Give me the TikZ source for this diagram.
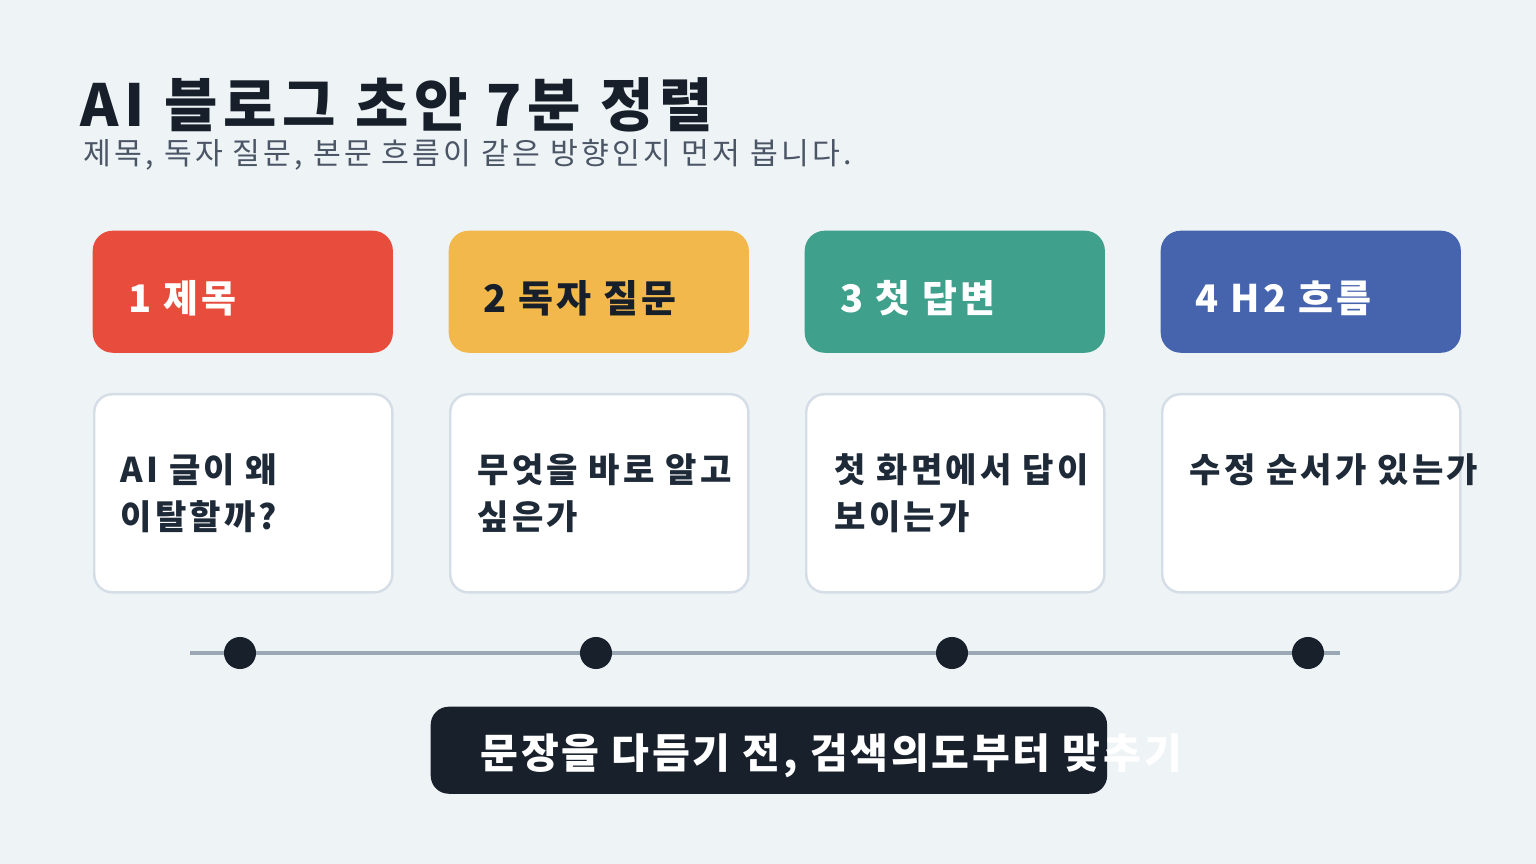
\documentclass[tikz,border=0pt]{standalone}
\usepackage{fontspec}
\setmainfont{Noto Sans CJK KR}
\usetikzlibrary{positioning}

\definecolor{bgcol}{HTML}{EEF3F6}
\definecolor{inkdark}{HTML}{17202A}
\definecolor{inkgray}{HTML}{4A5565}
\definecolor{stepred}{HTML}{E84C3D}
\definecolor{stepyellow}{HTML}{F2B84B}
\definecolor{stepteal}{HTML}{3FA08C}
\definecolor{stepblue}{HTML}{4564AD}
\definecolor{cardline}{HTML}{D5DDE6}
\definecolor{bodyink}{HTML}{1E2A38}
\definecolor{trackcol}{HTML}{9AA7B4}
\definecolor{dotcol}{HTML}{18202B}

\tikzset{
  headbox/.style={rectangle, rounded corners=0.2cm, inner sep=0pt,
    minimum width=3cm, minimum height=1.22cm, anchor=north west},
  headtxt/.style={anchor=base west, inner sep=0pt, text=white,
    font=\fontsize{10.8pt}{13pt}\selectfont\bfseries\addfontfeatures{LetterSpace=8.5}},
  cardbox/.style={rectangle, rounded corners=0.18cm, inner sep=0pt, fill=white,
    draw=cardline, line width=0.7pt, minimum width=2.98cm, minimum height=1.98cm,
    anchor=north west},
  cardtxt/.style={anchor=base west, inner sep=0pt, text=bodyink, align=left,
    font=\fontsize{9.7pt}{13.4pt}\selectfont\bfseries\addfontfeatures{LetterSpace=9}},
  tickdot/.style={circle, fill=dotcol, inner sep=0pt, minimum size=0.32cm}
}

\begin{document}
\begin{tikzpicture}[x=0.01cm, y=-0.01cm]
  % Background and page size
  \useasboundingbox[fill=bgcol] (0,0) rectangle (1536,864);

  % Title and subtitle
  \node[anchor=base west, inner sep=0pt, text=inkdark,
    font=\fontsize{16.5pt}{20pt}\selectfont\bfseries\addfontfeatures{LetterSpace=10}] (title) at (80,127)
    {AI 블로그 초안 7분 정렬};
  \node[anchor=base west, inner sep=0pt, text=inkgray,
    font=\fontsize{8.6pt}{10pt}\selectfont\addfontfeatures{LetterSpace=10.5}] (subtitle) at (83,165)
    {제목, 독자 질문, 본문 흐름이 같은 방향인지 먼저 봅니다.};

  % Coloured step headers
  \node[headbox, fill=stepred] (h1) at (92,230) {};
  \node[headbox, fill=stepyellow] (h2) at (448,230) {};
  \node[headbox, fill=stepteal] (h3) at (804,230) {};
  \node[headbox, fill=stepblue] (h4) at (1160,230) {};
  \node[headtxt] (h1txt) at (128,313) {1 제목};
  \node[headtxt, text=inkdark] (h2txt) at (483,313) {2 독자 질문};
  \node[headtxt] (h3txt) at (840,313) {3 첫 답변};
  \node[headtxt] (h4txt) at (1195,313) {4 H2 흐름};

  % White question cards (two-line texts sit on their last baseline)
  \node[cardbox] (c1) at (93,393) {};
  \node[cardbox] (c2) at (449,393) {};
  \node[cardbox] (c3) at (805,393) {};
  \node[cardbox] (c4) at (1161,393) {};
  \node[cardtxt] (c1txt) at (120,530) {AI 글이 왜\\이탈할까?};
  \node[cardtxt] (c2txt) at (477,530) {무엇을 바로 알고\\싶은가};
  \node[cardtxt] (c3txt) at (834,530) {첫 화면에서 답이\\보이는가};
  \node[cardtxt] (c4txt) at (1189,482) {수정 순서가 있는가};

  % Timeline with dots
  \coordinate (trackL) at (190,653);
  \coordinate (trackR) at (1340,653);
  \draw[trackcol, line width=1.4pt] (trackL) -- (trackR);
  \node[tickdot] (d1) at (240,653) {};
  \node[tickdot] (d2) at (596,653) {};
  \node[tickdot] (d3) at (952,653) {};
  \node[tickdot] (d4) at (1308,653) {};

  % Closing note
  \node[rectangle, rounded corners=0.18cm, fill=dotcol, inner sep=0pt,
    minimum width=6.76cm, minimum height=0.87cm, anchor=north west] (note) at (430,706) {};
  \node[anchor=base west, inner sep=0pt, text=white,
    font=\fontsize{11.7pt}{14pt}\selectfont\bfseries\addfontfeatures{LetterSpace=6.6}] (notetxt) at (480,768)
    {문장을 다듬기 전, 검색의도부터 맞추기};
\end{tikzpicture}
\end{document}
